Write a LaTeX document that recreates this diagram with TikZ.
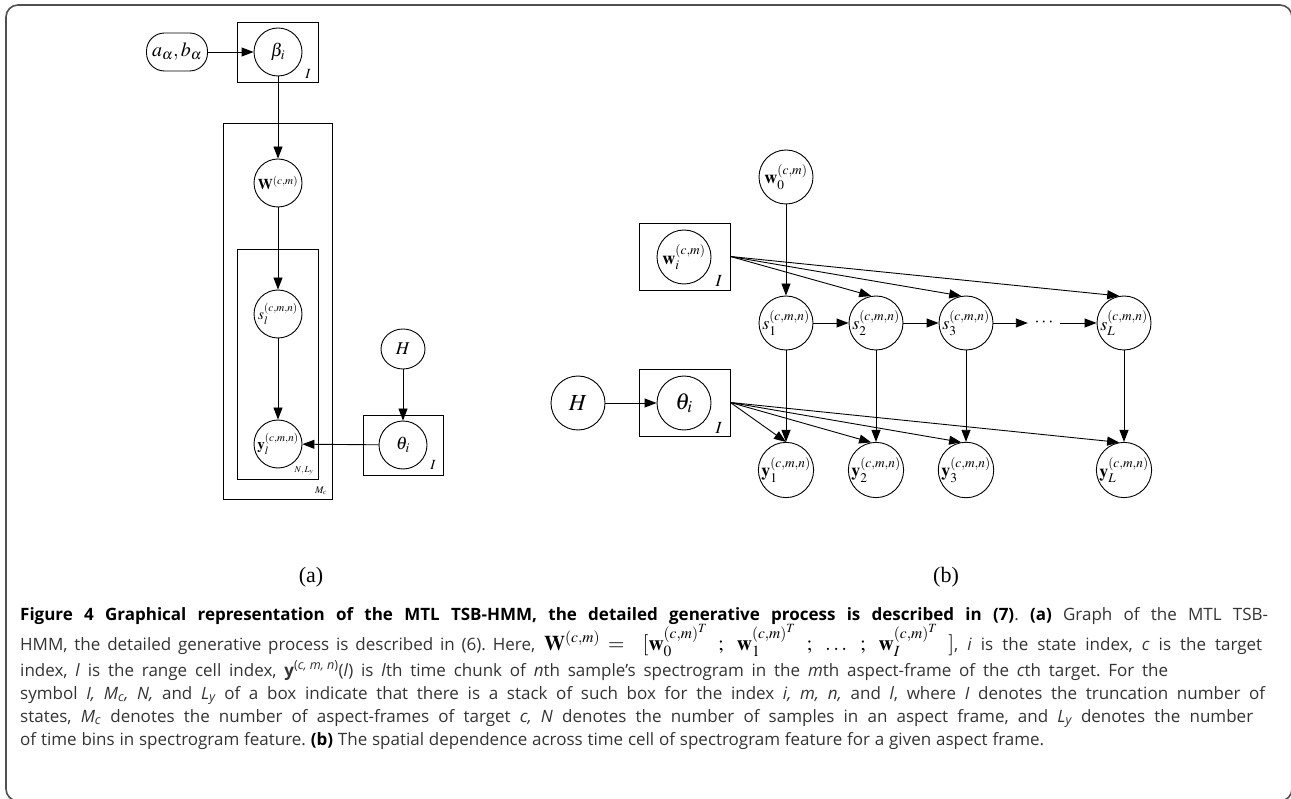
\documentclass[tikz,border=0pt]{standalone}
\usepackage{mathptmx}
\usepackage[no-math]{fontspec}
\setmainfont{Open Sans}
\newfontfamily\seriffont{Liberation Serif}
\usetikzlibrary{arrows.meta,shapes.geometric}
\frenchspacing
\definecolor{captext}{HTML}{333333}
\definecolor{framecol}{HTML}{505050}
\tikzset{
  var/.style={circle,draw,line width=0.9pt,inner sep=0pt,minimum size=#1},
  plate/.style={draw,line width=0.9pt,inner sep=0pt},
  arr/.style={-{Triangle[length=12pt,width=9pt]},line width=0.9pt},
  lblA/.style={font=\fontsize{15}{17}\selectfont,inner sep=0pt},
  lblB/.style={font=\fontsize{18}{20}\selectfont,inner sep=0pt},
  platelab/.style={inner sep=0pt,font=\fontsize{14}{16}\selectfont},
  capline/.style={anchor=base west,inner sep=0pt,text=captext,font=\fontsize{17}{20}\selectfont},
  sublab/.style={inner sep=0pt,font=\fontsize{22}{24}\seriffont}
}
\begin{document}
\begin{tikzpicture}[x=1pt,y=-1pt]
\useasboundingbox (0,0) rectangle (1291,799);
\draw[framecol,line width=1.6pt,rounded corners=12pt] (6,5) rectangle (1292,801);

% ---------------- (a) ----------------
\node[draw,line width=0.9pt,rounded corners=18pt,minimum width=61pt,minimum height=38pt,inner sep=0pt,font=\fontsize{20}{22}\selectfont] (ab) at (177,52) {$a_\alpha,b_\alpha$};
\node[plate,minimum width=81pt,minimum height=60pt] (betaplate) at (277.5,52) {};
\node[var=48pt,font=\fontsize{18}{20}\selectfont] (beta) at (278,52) {$\beta_i$};
\node[platelab] (betaI) at (308,74) {$I$};

\node[plate,minimum width=109pt,minimum height=376pt] (mplate) at (277.5,311) {};
\node[plate,minimum width=81pt,minimum height=230pt] (nplate) at (277.5,364) {};
\node[var=48pt,lblA] (W) at (278,183) {$\mathbf{W}^{(c,m)}$};
\node[var=48pt,lblA] (sl) at (278,314) {$s_l^{(c,m,n)}$};
\node[var=48pt,lblA] (yl) at (278,444) {$\mathbf{y}_l^{(c,m,n)}$};
\node[inner sep=0pt,font=\fontsize{9}{10}\selectfont] (nlab) at (304,471) {$N,L_y$};
\node[inner sep=0pt,font=\fontsize{10}{11}\selectfont] (mlab) at (321,491) {$M_c$};

\node[ellipse,draw,line width=0.9pt,inner sep=0pt,minimum width=44pt,minimum height=40pt,font=\fontsize{18}{20}\selectfont] (Ha) at (403,349) {$H$};
\node[plate,minimum width=80pt,minimum height=60pt] (thaplate) at (403,445) {};
\node[var=48pt,font=\fontsize{18}{20}\selectfont] (tha) at (403,445) {$\theta_i$};
\node[platelab] (thaI) at (433,465) {$I$};

\draw[arr] (ab) -- (beta);
\draw[arr] (beta) -- (W);
\draw[arr] (W) -- (sl);
\draw[arr] (sl) -- (yl);
\draw[arr] (Ha) -- (tha);
\draw[arr] (tha) -- (yl);

% ---------------- (b) ----------------
\node[var=54pt,lblB] (w0) at (786,177) {$\mathbf{w}_0^{(c,m)}$};
\node[plate,minimum width=91pt,minimum height=67pt] (wplate) at (684.5,256.5) {};
\node[var=54pt,lblB] (wi) at (684,257) {$\mathbf{w}_i^{(c,m)}$};
\node[platelab,font=\fontsize{17}{19}\selectfont] (wI) at (719,281) {$I$};

\node[var=54pt,lblB] (s1) at (786,323) {$s_1^{(c,m,n)}$};
\node[var=54pt,lblB] (s2) at (876,323) {$s_2^{(c,m,n)}$};
\node[var=54pt,lblB] (s3) at (966,323) {$s_3^{(c,m,n)}$};
\node[inner sep=0pt,minimum width=32pt,font=\fontsize{18}{20}\selectfont] (dots) at (1044,323) {$\cdots$};
\node[var=54pt,lblB] (sL) at (1124,323) {$s_L^{(c,m,n)}$};

\node[var=54pt,font=\fontsize{23}{25}\selectfont] (Hb) at (578,403) {$H$};
\node[plate,minimum width=91pt,minimum height=67pt] (thplate) at (684.5,402.5) {};
\node[var=54pt,font=\fontsize{23}{25}\selectfont] (thb) at (684,403) {$\theta_i$};
\node[platelab,font=\fontsize{17}{19}\selectfont] (thI) at (719,428) {$I$};

\node[var=54pt,lblB] (y1) at (786,470) {$\mathbf{y}_1^{(c,m,n)}$};
\node[var=54pt,lblB] (y2) at (876,470) {$\mathbf{y}_2^{(c,m,n)}$};
\node[var=54pt,lblB] (y3) at (966,470) {$\mathbf{y}_3^{(c,m,n)}$};
\node[var=54pt,lblB] (yL) at (1124,470) {$\mathbf{y}_L^{(c,m,n)}$};

\draw[arr] (w0) -- (s1);
\draw[arr] (wplate.east) -- (s2.100);
\draw[arr] (wplate.east) -- (s3.100);
\draw[arr] (wplate.east) -- (sL.100);
\draw[arr] (s1) -- (s2);
\draw[arr] (s2) -- (s3);
\draw[arr] (s3) -- (dots);
\draw[arr] (dots) -- (sL);
\draw[arr] (Hb) -- (thb);
\draw[arr] (thplate.east) -- (y1.north);
\draw[arr] (thplate.east) -- (y2.100);
\draw[arr] (thplate.east) -- (y3.100);
\draw[arr] (thplate.east) -- (yL.100);
\draw[arr] (s1) -- (y1);
\draw[arr] (s2) -- (y2);
\draw[arr] (s3) -- (y3);
\draw[arr] (sL) -- (yL);

% ---------------- sub labels ----------------
\node[sublab] (la) at (311,577) {(a)};
\node[sublab] (lb) at (946,577) {(b)};

% ---------------- caption ----------------
\node[capline] (c1) at (20,620) {\makebox[1248pt][s]{\textcolor{black}{\textbf{Figure 4 Graphical representation of the MTL TSB-HMM, the detailed generative process is described in (7)}}. \textcolor{black}{\textbf{(a)}} Graph of the MTL TSB-}};
\node[capline] (c2) at (20,650) {\makebox[1242pt][s]{\makebox[515pt][s]{HMM, the detailed generative process is described in (6). Here,} {\color{black}\fontsize{21}{23}\selectfont\makebox[410pt][s]{$\mathbf{W}^{(c,m)} = \ [\mathbf{w}_0^{{(c,m)}^T}\ ;\ \mathbf{w}_1^{{(c,m)}^T}\ ;\ \ldots\ ;\ \mathbf{w}_I^{{(c,m)}^T}\ ]$}}, \textit{i} is the state index, \textit{c} is the target}};
\node[capline] (c3) at (20,676) {\makebox[1148pt][s]{index, \textit{l} is the range cell index, \textbf{y}\textsuperscript{(\textit{c, m, n})}(\textit{l}) is \textit{l}th time chunk of \textit{n}th sample's spectrogram in the \textit{m}th aspect-frame of the \textit{c}th target. For the}};
\node[capline] (c4) at (20,699) {\makebox[1245pt][s]{symbol \textit{I, M\textsubscript{c}, N,} and \textit{L\textsubscript{y}} of a box indicate that there is a stack of such box for the index \textit{i, m, n,} and \textit{l}, where \textit{I} denotes the truncation number of}};
\node[capline] (c5) at (20,722) {\makebox[1233pt][s]{states, \textit{M\textsubscript{c}} denotes the number of aspect-frames of target \textit{c, N} denotes the number of samples in an aspect frame, and \textit{L\textsubscript{y}} denotes the number}};
\node[capline] (c6) at (20,745) {\makebox[1024pt][s]{of time bins in spectrogram feature. \textcolor{black}{\textbf{(b)}} The spatial dependence across time cell of spectrogram feature for a given aspect frame.}};
\end{tikzpicture}
\end{document}
